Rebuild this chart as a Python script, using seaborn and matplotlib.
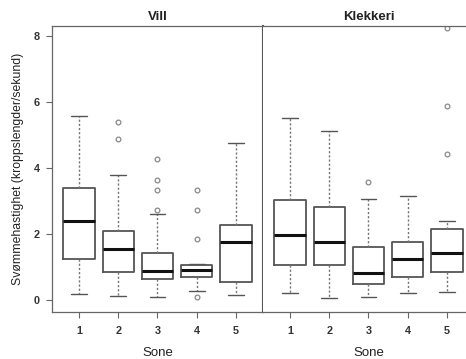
import numpy as np
import pandas as pd
import matplotlib
matplotlib.use("Agg")
import matplotlib.pyplot as plt
import seaborn as sns

# Summary statistics per zone (swimming speed, body lengths per second)
zones = [1, 2, 3, 4, 5]
sites = ["Vill", "Klekkeri"]

vill_whislo = [0.17, 0.12, 0.10, 0.27, 0.15]
vill_q1 = [1.24, 0.84, 0.65, 0.71, 0.54]
vill_med = [2.40, 1.54, 0.87, 0.91, 1.76]
vill_q3 = [3.38, 2.10, 1.43, 1.07, 2.27]
vill_whishi = [5.58, 3.80, 2.60, 1.10, 4.77]
vill_fliers = [[], [5.40, 4.87], [4.27, 3.65, 3.32, 2.72], [3.32, 2.73, 1.85, 0.10], []]

klek_whislo = [0.22, 0.06, 0.08, 0.21, 0.24]
klek_q1 = [1.07, 1.06, 0.49, 0.69, 0.85]
klek_med = [1.96, 1.75, 0.81, 1.23, 1.43]
klek_q3 = [3.03, 2.83, 1.61, 1.75, 2.15]
klek_whishi = [5.52, 5.12, 3.06, 3.16, 2.41]
klek_fliers = [[], [], [3.58], [], [8.23, 5.89, 4.42]]

rows = []
for site, lo, q1, med, q3, hi, fl in [
    ("Vill", vill_whislo, vill_q1, vill_med, vill_q3, vill_whishi, vill_fliers),
    ("Klekkeri", klek_whislo, klek_q1, klek_med, klek_q3, klek_whishi, klek_fliers),
]:
    for i, z in enumerate(zones):
        rows.append(dict(site=site, zone=z, whislo=lo[i], q1=q1[i], med=med[i],
                         q3=q3[i], whishi=hi[i], fliers=fl[i]))
stats = pd.DataFrame(rows)

sns.set_style("ticks")
plt.rcParams["font.family"] = ["Liberation Sans", "DejaVu Sans"]

BOX_C = "#555555"
FRAME_C = "#666666"


def draw_boxes(data, **kws):
    ax = plt.gca()
    bstats = []
    for _, r in data.iterrows():
        bstats.append(dict(whislo=r.whislo, q1=r.q1, med=r.med, q3=r.q3,
                           whishi=r.whishi, fliers=np.array(r.fliers)))
    ax.bxp(
        bstats,
        positions=list(data["zone"]),
        widths=0.8,
        capwidths=0.4,
        patch_artist=False,
        boxprops=dict(color=BOX_C, linewidth=1.3),
        whiskerprops=dict(color="#777777", linewidth=1.0, linestyle=(0, (1.6, 1.4))),
        capprops=dict(color=BOX_C, linewidth=1.0),
        medianprops=dict(color="#111111", linewidth=2.2, solid_capstyle="butt"),
        flierprops=dict(marker="o", markersize=3.4, markerfacecolor="none",
                        markeredgecolor="#888888", markeredgewidth=0.9),
        manage_ticks=False,
    )


W, H = 466, 359
g = sns.FacetGrid(stats, col="site", col_order=sites, sharey=True,
                  height=H / 100, aspect=(W / 2) / H)
g.figure.set_size_inches(W / 100, H / 100)
g.map_dataframe(draw_boxes)

ax_l, ax_r = g.axes.flat
ax_l.set_position([52 / W, 47 / H, 211 / W, 286 / H])
ax_r.set_position([263 / W, 47 / H, 211 / W, 286 / H])

for ax, name in zip((ax_l, ax_r), sites):
    ax.set_xlim(0.31, 5.69)
    ax.set_ylim(-0.36, 8.30)
    ax.set_xticks(zones)
    ax.set_xticklabels([str(z) for z in zones], fontsize=7.8, fontweight="bold",
                       color="#333333")
    ax.set_title(name, fontsize=9.5, fontweight="bold", pad=4, color="#222222")
    ax.set_xlabel("Sone", fontsize=9.5, labelpad=8, color="#222222")
    ax.tick_params(axis="x", length=4, width=0.8, color=FRAME_C, pad=6)
    for s in ("top", "bottom", "left", "right"):
        ax.spines[s].set_visible(True)
        ax.spines[s].set_color(FRAME_C)
        ax.spines[s].set_linewidth(0.9)

ax_l.set_yticks([0, 2, 4, 6, 8])
ax_l.set_yticklabels(["0", "2", "4", "6", "8"], fontsize=7.8, fontweight="bold",
                     color="#333333")
ax_l.tick_params(axis="y", length=4, width=0.8, color=FRAME_C, pad=5)
ax_l.set_ylabel("Svømmehastighet (kroppslengder/sekund)", fontsize=8.8,
                color="#222222", labelpad=7)
ax_l.spines["right"].set_color("#555555")
ax_l.spines["right"].set_linewidth(1.5)

ax_r.tick_params(axis="y", left=False, labelleft=False)
ax_r.set_ylabel("")
ax_r.spines["left"].set_visible(False)
ax_r.spines["right"].set_visible(False)

g.figure.savefig("out.png", dpi=100)
